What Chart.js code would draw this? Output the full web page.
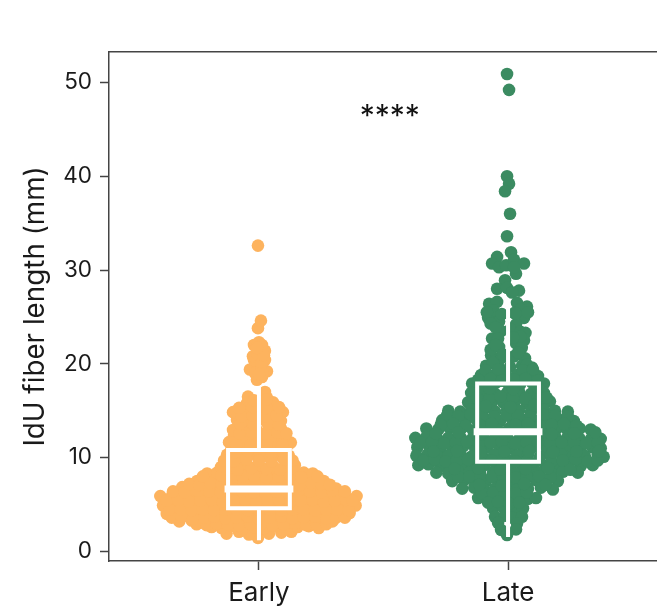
<!DOCTYPE html>
<html>
<head>
<meta charset="utf-8">
<style>
html, body { margin: 0; padding: 0; background: #ffffff; }
canvas { display: block; }
</style>
<script src="https://cdn.jsdelivr.net/npm/chart.js@4"></script>
</head>
<body>
<canvas id="chart" width="657" height="616"></canvas>
<script>
// Categories and tick labels
let categories = ['Early', 'Late'];
let yTicks = [0, 10, 20, 30, 40, 50];

// Box stats: min, q1, median, q3, max
let earlyBox = [1.4, 4.6, 6.65, 10.8, 17.4];
let lateBox = [1.75, 9.55, 12.75, 17.9, 26.3];

// Swarm points, one line per band of the swarm. X is the offset from the category centre
let earlyX = [
    -0.004,
    -0.13, -0.08, -0.04, 0.04, 0.09, 0.13,
    -0.19, -0.15, -0.11, -0.065, -0.02, 0.02, 0.065, 0.11, 0.155, 0.2, 0.24,
    -0.32, -0.27, -0.23, -0.185, -0.145, -0.1, -0.055, -0.012, 0.032, 0.076, 0.12, 0.165, 0.21, 0.25, 0.295,
    -0.37, -0.33, -0.29, -0.245, -0.2, -0.16, -0.116, -0.072, -0.028, 0.016, 0.06, 0.104, 0.148, 0.192, 0.232, 0.276, 0.32, 0.364,
    -0.385, -0.345, -0.3, -0.256, -0.216, -0.172, -0.128, -0.084, -0.04, 0.004, 0.048, 0.092, 0.136, 0.18, 0.224, 0.268, 0.308, 0.352, 0.388,
    -0.396, -0.352, -0.312, -0.268, -0.224, -0.18, -0.136, -0.092, -0.048, 0, 0.044, 0.088, 0.132, 0.176, 0.22, 0.264, 0.304, 0.348, 0.392,
    -0.308, -0.264, -0.22, -0.176, -0.132, -0.088, -0.044, 0, 0.044, 0.088, 0.132, 0.176, 0.22, 0.264, 0.31,
    -0.248, -0.208, -0.168, -0.124, -0.08, -0.036, 0.008, 0.052, 0.096, 0.14, 0.184, 0.224, 0.26,
    -0.208, -0.168, -0.132, -0.088, -0.04, 0.008, 0.056, 0.1, 0.144, 0.18, 0.216,
    -0.152, -0.112, -0.06, 0, 0.06, 0.112, 0.144,
    -0.128, -0.08, -0.032, 0.02, 0.072, 0.12,
    -0.11, -0.06, -0.01, 0.05, 0.11,
    -0.12, -0.072, -0.024, 0.024, 0.072, 0.128,
    -0.1, -0.05, 0, 0.05, 0.1,
    -0.104, -0.056, -0.008, 0.04, 0.088,
    -0.088, -0.04, 0.012, 0.056, 0.088,
    -0.104, -0.048, 0, 0.048, 0.096,
    -0.048, 0.008, 0.056,
    -0.044, 0.032, 0.024,
    -0.008, 0.012, -0.036, 0.032, -0.004, -0.02, 0, 0.024, -0.024, 0.004, 0.024, -0.02, 0, -0.004, 0.008,
    -0.004,
    -0.25, -0.21, -0.17, -0.125, -0.08, -0.035, 0.01, 0.055, 0.1, 0.145, 0.19, 0.23, 0.27,
    -0.35, -0.31, -0.265, -0.22, -0.18, -0.135, -0.09, -0.045, 0, 0.045, 0.09, 0.135, 0.18, 0.225, 0.27, 0.31, 0.345,
    -0.36, -0.315, -0.27, -0.225, -0.18, -0.135, -0.09, -0.045, 0, 0.045, 0.09, 0.135, 0.18, 0.225, 0.27, 0.315, 0.36,
    -0.37, -0.325, -0.28, -0.235, -0.19, -0.145, -0.1, -0.055, -0.01, 0.035, 0.08, 0.125, 0.17, 0.215, 0.26, 0.305, 0.35, 0.375,
    -0.345, -0.3, -0.245, -0.2, -0.155, -0.11, -0.065, -0.02, 0.025, 0.07, 0.115, 0.16, 0.205, 0.25, 0.295, 0.345,
    -0.28, -0.24, -0.195, -0.15, -0.105, -0.06, -0.015, 0.03, 0.075, 0.12, 0.165, 0.21, 0.25, 0.285,
    -0.225, -0.15, -0.11, -0.065, -0.02, 0.03, 0.08, 0.125, 0.17, 0.235,
    -0.13, -0.085, -0.03, 0.03, 0.085, 0.13,
    -0.14, -0.1, -0.05, 0, 0.05, 0.1, 0.135,
    -0.095, -0.045, 0.05, 0.095,
    -0.09, -0.035, 0.03, 0.095,
    -0.078, -0.025, 0.025, 0.075, 0.11,
    -0.075, -0.02, 0.035, 0.08,
    -0.07, -0.025, 0.025, 0.07,
    -0.08, -0.025, 0.03, 0.08,
    -0.02, 0.03,
    0.012, -0.005, 0.01, -0.015, 0.015, 0, 0.02, -0.008
];
let earlyY = [
    1.45,
    1.9, 2.1, 1.8, 1.9, 2.0, 2.1,
    2.6, 2.5, 2.7, 2.4, 2.6, 2.5, 2.7, 2.4, 2.6, 2.7, 2.5,
    3.2, 3.3, 3.1, 3.3, 3.1, 3.2, 3.3, 3.1, 3.3, 3.2, 3.1, 3.3, 3.2, 3.3, 3.2,
    4.0, 4.1, 3.9, 4.1, 4.0, 3.9, 4.1, 4.0, 3.9, 4.1, 4.0, 3.9, 4.1, 4.0, 3.9, 4.1, 4.0, 4.1,
    4.9, 5.0, 4.8, 5.0, 4.9, 4.8, 5.0, 4.9, 5.0, 4.8, 4.9, 5.0, 4.8, 4.9, 5.0, 4.8, 4.9, 5.0, 4.9,
    5.9, 5.8, 6.0, 5.8, 5.9, 6.0, 5.8, 5.9, 6.0, 5.8, 5.9, 6.0, 5.8, 5.9, 6.0, 5.8, 5.9, 5.8, 5.9,
    6.85, 6.7, 6.9, 7.0, 6.8, 6.9, 7.0, 6.8, 6.9, 7.0, 6.8, 6.9, 7.0, 6.8, 6.7,
    7.5, 7.7, 7.6, 7.8, 7.5, 7.7, 7.6, 7.8, 7.5, 7.7, 7.6, 7.7, 7.5,
    8.3, 8.4, 8.3, 8.5, 8.4, 8.3, 8.5, 8.4, 8.3, 8.4, 8.3,
    9.0, 9.1, 9.0, 9.2, 9.0, 9.1, 9.2,
    10.3, 10.1, 10.4, 10.2, 10.3, 10.2,
    11.0, 11.1, 10.9, 11.0, 11.1,
    11.65, 11.8, 11.6, 11.7, 11.8, 11.6,
    12.3, 12.2, 12.4, 12.3, 12.2,
    12.95, 13.1, 12.9, 13.0, 13.1,
    14.0, 13.9, 14.1, 14.0, 13.9,
    14.85, 14.9, 14.7, 14.9, 14.85,
    15.8, 15.7, 15.9,
    16.5, 16.4, 17.0,
    18.3, 18.6, 19.4, 19.2, 19.7, 20.4, 20.5, 20.4, 20.8, 21.3, 21.4, 22.0, 22.3, 23.8, 24.6,
    32.6,
    2.9, 2.8, 3.0, 2.9, 2.8, 2.9, 3.0, 2.8, 2.9, 3.0, 2.8, 2.9, 2.9,
    3.6, 3.7, 3.5, 3.6, 3.7, 3.5, 3.6, 3.7, 3.5, 3.6, 3.7, 3.5, 3.6, 3.7, 3.5, 3.6, 3.6,
    4.45, 4.5, 4.4, 4.5, 4.4, 4.45, 4.5, 4.4, 4.45, 4.5, 4.4, 4.45, 4.5, 4.4, 4.45, 4.5, 4.4,
    5.4, 5.5, 5.3, 5.4, 5.5, 5.3, 5.4, 5.5, 5.3, 5.4, 5.5, 5.3, 5.4, 5.5, 5.3, 5.4, 5.5, 5.4,
    6.4, 6.3, 6.5, 6.4, 6.3, 6.5, 6.4, 6.3, 6.5, 6.4, 6.3, 6.5, 6.4, 6.3, 6.5, 6.4,
    7.2, 7.1, 7.3, 7.2, 7.1, 7.3, 7.2, 7.1, 7.3, 7.2, 7.1, 7.3, 7.2, 7.1,
    8.0, 8.1, 7.9, 8.0, 8.1, 7.9, 8.0, 8.1, 7.9, 8.0,
    8.8, 8.7, 8.9, 8.8, 8.7, 8.9,
    9.7, 9.6, 9.8, 9.7, 9.6, 9.8, 9.7,
    10.6, 10.7, 10.6, 10.7,
    11.35, 11.3, 11.4, 11.35,
    12.6, 12.7, 12.6, 12.7, 12.6,
    13.6, 13.5, 13.6, 13.5,
    14.4, 14.5, 14.4, 14.5,
    15.3, 15.4, 15.3, 15.4,
    16.1, 16.2,
    22.0, 21.0, 20.0, 19.0, 19.0, 18.9, 20.9, 21.7
];
let lateX = [
    -0.004, 0.004, -0.004, 0.004, -0.012, 0.008, -0.004,
    0.012, -0.044, -0.064, -0.036, -0.008, 0.024, 0.064, 0.032, 0.024,
    -0.012, -0.044, -0.004, 0.044, 0.016,
    -0.076, -0.044, 0.076, 0.036, -0.08, -0.056, -0.036, 0.064, 0.032, -0.064, -0.028, 0.064, 0.032, -0.036, -0.06, 0.05, 0.01,
    -0.068, -0.024, 0.024, 0.068,
    -0.088, -0.04, 0.008, 0.056, 0.096,
    -0.108, -0.06, -0.012, 0.036, 0.084, 0.12,
    -0.144, -0.096, -0.048, 0, 0.048, 0.096, 0.144,
    -0.148, -0.1, -0.052, -0.004, 0.044, 0.092, 0.144,
    -0.16, -0.116, -0.068, -0.02, 0.028, 0.076, 0.124, 0.168,
    -0.24, -0.192, -0.148, -0.1, -0.052, -0.004, 0.044, 0.092, 0.144, 0.188, 0.24,
    -0.264, -0.22, -0.172, -0.128, -0.08, -0.032, 0.016, 0.064, 0.112, 0.16, 0.208, 0.264,
    -0.328, -0.28, -0.236, -0.188, -0.14, -0.092, -0.044, 0.004, 0.052, 0.1, 0.148, 0.196, 0.24, 0.288, 0.332,
    -0.372, -0.328, -0.284, -0.24, -0.192, -0.144, -0.096, -0.048, 0, 0.048, 0.096, 0.144, 0.192, 0.24, 0.288, 0.336, 0.372,
    -0.364, -0.316, -0.272, -0.224, -0.18, -0.132, -0.084, -0.036, 0.012, 0.06, 0.108, 0.156, 0.204, 0.248, 0.292, 0.34, 0.372,
    -0.368, -0.324, -0.28, -0.24, -0.192, -0.148, -0.104, -0.056, -0.012, 0.036, 0.08, 0.128, 0.172, 0.216, 0.26, 0.308, 0.36, 0.384,
    -0.36, -0.32, -0.272, -0.228, -0.184, -0.14, -0.096, -0.04, 0.008, 0.056, 0.104, 0.152, 0.2, 0.24, 0.292, 0.34,
    -0.288, -0.24, -0.2, -0.156, -0.112, -0.06, -0.016, 0.032, 0.08, 0.124, 0.176, 0.22, 0.28,
    -0.224, -0.176, -0.132, -0.088, -0.04, 0.012, 0.056, 0.112, 0.152, 0.2,
    -0.184, -0.136, -0.096, -0.052, -0.008, 0.036, 0.08, 0.132, 0.18,
    -0.12, -0.08, -0.04, -0.008, 0.04, 0.08, 0.112,
    -0.06, -0.02, 0.02, 0.06,
    -0.052, -0.012, 0.016, 0.056,
    -0.04, 0.036,
    -0.028, 0.032,
    -0.004,
    -0.025, 0.025, 0.08, -0.085, -0.07, 0.03,
    -0.05, 0.05, -0.07, -0.04, 0.055, 0.07, -0.06, 0.04, 0.075,
    -0.09, -0.04, 0.06, 0.1,
    -0.12, -0.07, -0.025, 0.025, 0.07, 0.12,
    -0.125, -0.075, -0.03, 0.02, 0.07, 0.12, 0.155,
    -0.245, -0.2, -0.15, -0.105, -0.055, -0.005, 0.04, 0.09, 0.14, 0.19, 0.24,
    -0.27, -0.22, -0.17, -0.115, -0.065, 0.03, 0.08, 0.13, 0.175, 0.225, 0.275,
    -0.35, -0.305, -0.255, -0.21, -0.165, -0.115, -0.07, -0.025, 0.03, 0.075, 0.12, 0.17, 0.215, 0.265, 0.315, 0.36,
    -0.34, -0.295, -0.25, -0.205, -0.16, -0.115, -0.065, -0.02, 0.03, 0.08, 0.125, 0.175, 0.22, 0.27, 0.32, 0.36,
    -0.2, -0.155, -0.11, -0.065, -0.02, 0.03, 0.075, 0.125, 0.17,
    -0.105, -0.06, -0.015, 0.03, 0.075,
    -0.08, -0.04, 0.005, 0.045,
    -0.29, -0.2, -0.11, -0.015, 0.08, 0.175, 0.265, 0.35,
    -0.3, -0.205, -0.11, -0.015, 0.085, 0.18, 0.275, 0.365,
    -0.215, -0.12, -0.03, 0.07, 0.16, 0.25,
    -0.115, -0.025, 0.065, 0.15,
    -0.09, 0.01, 0.105,
    -0.075, 0.02, 0.12,
    -0.05, 0.05, -0.02, 0.02
];
let lateY = [
    50.9, 49.2, 40.0, 39.2, 38.4, 36.0, 33.6,
    31.9, 31.4, 30.7, 30.3, 30.5, 31.1, 30.7, 29.6, 30.3,
    28.9, 28.0, 28.1, 27.8, 27.6,
    26.4, 26.6, 26.1, 26.5, 24.9, 25.1, 24.5, 24.9, 24.2, 22.7, 23.5, 22.5, 22.2, 21.8, 25.7, 25.8, 23.7,
    20.9, 20.7, 20.8, 20.6,
    19.8, 19.9, 19.7, 19.8, 19.6,
    18.8, 18.7, 18.9, 18.8, 18.6, 18.7,
    17.9, 17.8, 18.0, 17.9, 17.8, 18.0, 17.9,
    16.9, 17.0, 16.8, 16.9, 17.0, 16.8, 16.9,
    15.9, 16.0, 15.8, 15.9, 16.0, 15.8, 15.9, 16.0,
    15.0, 14.9, 15.1, 15.0, 14.9, 15.1, 15.0, 14.9, 15.1, 15.0, 14.9,
    14.0, 14.2, 13.9, 14.1, 14.0, 13.9, 14.1, 14.0, 13.9, 14.1, 14.0, 13.9,
    13.1, 13.0, 13.2, 13.1, 12.9, 13.2, 13.0, 13.1, 12.9, 13.2, 13.0, 13.1, 12.9, 13.1, 13.0,
    12.1, 12.2, 12.0, 12.1, 12.2, 12.0, 12.1, 12.2, 12.0, 12.1, 12.2, 12.0, 12.1, 12.2, 12.0, 12.1, 12.0,
    11.1, 11.2, 11.0, 11.1, 11.2, 11.0, 11.1, 11.2, 11.0, 11.1, 11.2, 11.0, 11.1, 11.0, 11.2, 11.1, 11.0,
    10.2, 10.3, 10.1, 10.2, 10.3, 10.1, 10.2, 10.3, 10.1, 10.2, 10.3, 10.1, 10.2, 10.3, 10.1, 10.2, 10.3, 10.1,
    9.2, 9.3, 9.1, 9.2, 9.3, 9.1, 9.2, 9.3, 9.1, 9.2, 9.3, 9.1, 9.2, 9.3, 9.1, 9.2,
    8.4, 8.3, 8.5, 8.4, 8.3, 8.5, 8.4, 8.3, 8.5, 8.4, 8.3, 8.5, 8.4,
    7.5, 7.6, 7.4, 7.5, 7.6, 7.4, 7.5, 7.6, 7.4, 7.5,
    6.7, 6.8, 6.6, 6.7, 6.8, 6.6, 6.7, 6.8, 6.6,
    5.7, 5.8, 5.6, 5.7, 5.8, 5.6, 5.7,
    4.6, 4.7, 4.5, 4.6,
    3.7, 3.8, 3.6, 3.7,
    3.05, 3.0,
    2.3, 2.35,
    1.76,
    25.3, 25.4, 25.5, 25.5, 24.3, 25.4,
    23.9, 23.4, 21.5, 22.7, 21.7, 23.3, 20.1, 21.2, 19.9,
    19.3, 19.4, 19.3, 19.4,
    18.3, 18.4, 18.2, 18.3, 18.4, 18.2,
    16.4, 16.3, 16.5, 16.4, 16.3, 16.5, 16.4,
    14.5, 14.4, 14.6, 14.5, 14.4, 14.6, 14.5, 14.4, 14.6, 14.5, 14.4,
    13.5, 13.6, 13.4, 13.5, 13.6, 13.5, 13.6, 13.4, 13.5, 13.6, 13.4,
    11.6, 11.7, 11.5, 11.6, 11.7, 11.5, 11.6, 11.7, 11.5, 11.6, 11.7, 11.5, 11.6, 11.7, 11.5, 11.6,
    9.7, 9.8, 9.6, 9.7, 9.8, 9.6, 9.7, 9.8, 9.6, 9.7, 9.8, 9.6, 9.7, 9.8, 9.6, 9.7,
    7.95, 8.0, 7.9, 7.95, 8.0, 7.9, 7.95, 8.0, 7.9,
    6.2, 6.3, 6.1, 6.2, 6.3,
    5.2, 5.3, 5.1, 5.2,
    12.6, 12.7, 12.5, 12.6, 12.7, 12.5, 12.6, 12.7,
    10.65, 10.7, 10.6, 10.65, 10.7, 10.6, 10.65, 10.7,
    8.8, 8.9, 8.7, 8.8, 8.9, 8.7,
    7.1, 7.0, 7.2, 7.1,
    15.5, 15.4, 15.6,
    17.4, 17.3, 17.5,
    22.0, 22.9, 21.0, 22.8
];

// Significance mark
let markText = '****';
let markX = 0.525;
let markY = 46.3;

let fontName = 'Inter, sans-serif';
let textColor = '#1a1a1a';
let axisColor = '#444444';
let boxHalfWidth = 0.124;

// Turn a category position and its offsets into scatter points
function swarm(center, xs, ys) {
    return xs.map((x, i) => ({ x: center + x, y: ys[i] }));
}

// White box outline and both whiskers, broken by null gaps
function boxLines(center, stats) {
    let [low, q1, med, q3, high] = stats;
    let left = center - boxHalfWidth;
    let right = center + boxHalfWidth;
    return [
        { x: left, y: q1 }, { x: right, y: q1 }, { x: right, y: q3 }, { x: left, y: q3 }, { x: left, y: q1 },
        { x: left, y: null },
        { x: center, y: q3 }, { x: center, y: high },
        { x: left, y: null },
        { x: center, y: q1 }, { x: center, y: low }
    ];
}

function medianLine(center, stats) {
    return [{ x: center - boxHalfWidth, y: stats[2] }, { x: center + boxHalfWidth, y: stats[2] }];
}

function swarmDataset(data, color) {
    return {
        data: data,
        backgroundColor: color,
        borderWidth: 0,
        pointRadius: 6.3,
        pointHoverRadius: 6.3,
        showLine: false
    };
}

function lineDataset(data, width) {
    return {
        data: data,
        borderColor: '#ffffff',
        borderWidth: width,
        borderJoinStyle: 'miter',
        borderCapStyle: 'square',
        pointRadius: 0,
        showLine: true,
        spanGaps: false,
        tension: 0
    };
}

// Draws the **** above the two groups
let markPlugin = {
    id: 'mark',
    afterDatasetsDraw(chart) {
        let ctx = chart.ctx;
        ctx.save();
        ctx.fillStyle = '#111111';
        ctx.font = '30px ' + fontName;
        ctx.textAlign = 'center';
        ctx.textBaseline = 'middle';
        ctx.fillText(markText, chart.scales.x.getPixelForValue(markX), chart.scales.y.getPixelForValue(markY));
        ctx.restore();
    }
};

let ctx = document.getElementById('chart').getContext('2d');
let chart = new Chart(ctx, {
    type: 'scatter',
    data: {
        // Chart.js paints the first dataset last, so the white boxes go first
        datasets: [
            lineDataset(boxLines(0, earlyBox), 4),
            lineDataset(medianLine(0, earlyBox), 7),
            lineDataset(boxLines(1, lateBox), 4),
            lineDataset(medianLine(1, lateBox), 7),
            swarmDataset(swarm(0, earlyX, earlyY), '#FDB35E'),
            swarmDataset(swarm(1, lateX, lateY), '#3B8B61')
        ]
    },
    plugins: [markPlugin],
    options: {
        responsive: false,
        animation: false,
        layout: { padding: 0, autoPadding: false },
        plugins: { legend: { display: false }, tooltip: { enabled: false } },
        scales: {
            x: {
                type: 'linear',
                position: 'bottom',
                min: -0.602,
                max: 1.598,
                afterFit(scale) {
                    scale.height = 55;
                    scale.paddingRight = 0;
                    scale.paddingLeft = 0;
                },
                afterBuildTicks(scale) { scale.ticks = categories.map((c, i) => ({ value: i })); },
                grid: { drawOnChartArea: false, tickLength: 9, tickColor: axisColor, tickWidth: 1.5 },
                border: { color: axisColor, width: 1.5 },
                ticks: {
                    padding: 8,
                    maxRotation: 0,
                    color: textColor,
                    font: { family: fontName, size: 26 },
                    callback: (v) => categories[v]
                }
            },
            xTop: {
                type: 'linear',
                position: 'top',
                min: 0,
                max: 1,
                afterFit(scale) { scale.height = 52; },
                grid: { display: false },
                border: { display: true, color: axisColor, width: 1.5 },
                ticks: { display: false }
            },
            y: {
                type: 'linear',
                min: -1.02,
                max: 53.24,
                afterFit(scale) { scale.width = 109; },
                afterBuildTicks(scale) { scale.ticks = yTicks.map((v) => ({ value: v })); },
                grid: { drawOnChartArea: false, tickLength: 9, tickColor: axisColor, tickWidth: 1.5 },
                border: { color: axisColor, width: 1.5 },
                ticks: {
                    padding: 8,
                    color: textColor,
                    font: { family: fontName, size: 22.5 }
                },
                title: {
                    display: true,
                    text: 'IdU fiber length (mm)',
                    color: textColor,
                    font: { family: fontName, size: 27.8 },
                    padding: { top: 19, bottom: 0 }
                }
            }
        }
    }
});
</script>
</body>
</html>
